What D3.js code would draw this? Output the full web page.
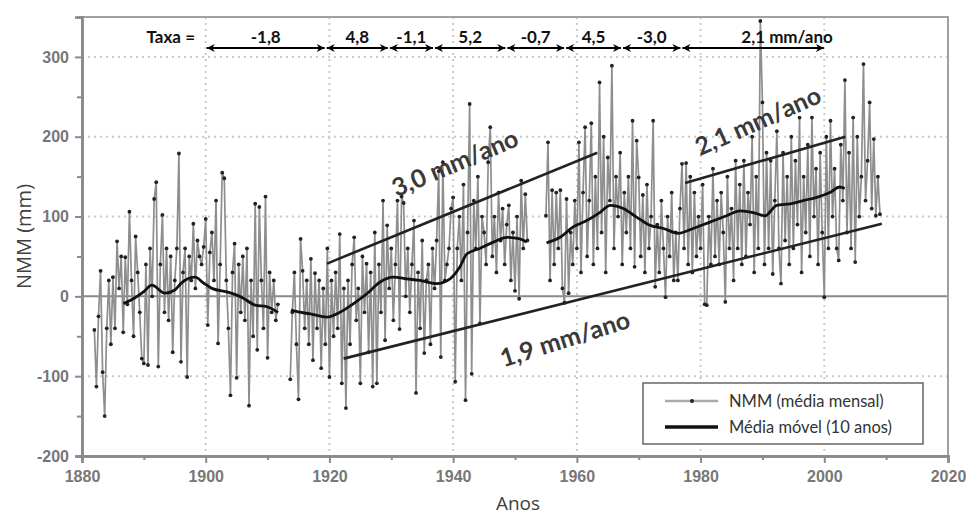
<!DOCTYPE html>
<html>
<head>
<meta charset="utf-8">
<script src="https://cdn.jsdelivr.net/npm/d3@7"></script>
<style>
  body { margin: 0; background: #fff; }
  svg { display: block; }
</style>
</head>
<body>
<div id="chart"></div>
<script>

// monthly sea level (sampled every 4 months), mm, three pieces with gaps
var step = 1 / 3;

var seg1Start = 1882;
var seg1 = [
  -42, -113, -25,   32, -95, -150,   -40, 20, -60,   24, -40, 69,
  10, 50, -45,   49, -10, 106,   20, -50, 75,   30, -20, -78,
  -84, 40, -86,   60, 0, 122,   143, -88, 40,   102, -20, 60,
  -30, 50, -70,   20, 60, 179,   -82, 30, 60,   -101, 50, 20,
  91, 10, 70,   50, 40, 62,   97, -36, 55,   80, 20, 120,
  -59, 40, 155,   148, 20, -40,   -124, 30, 66,   -102, 40, -20,
  50, -30, 60,   -137, 20, -50,   116, -67, 112,   20, -40, 125,
  -77, 30, -20,   20, -30, -10
];

var seg2Start = 1913 + 2 / 3;
var seg2 = [
  -104,
  -20, 30, -60,   -129, 72, 32,   -40, 20, -60,   47, -80, 29,
  -40, 20, -90,   10, -60, 60,   -101, 20, -50,   30, -40, 78,
  -109, 10, -140,   20, -60, 40,   74, -30, 10,   -109, 50, -20,
  41, -70, 30,   -113, 80, -109,   40, -20, 120,   -55, 89, 10,
  60, -30, 40,   120, -41, 125,   117, 0, 60,   -20, 40, 95,
  -121, 30, -40,   70, -71, 20,   40, -60, 60,   10, 70, 157,
  -76, 168, 20,   40, 60, 110,   124, -107, 60,   100, 20, 140,
  -130, 80, 241,   -97, 120, 60,   150, -34, 100,   80, 40, 168,
  212, 50, 100,   30, 130, 70,   110, 40, 90,   114, 20, 80,
  7, 100, -3,   145, 60, 128,   70
];

var seg3Start = 1955;
var seg3 = [
  101, 193, 20,   133, 40, 130,   60, 133, 10,   -8, 122, 4,
  80, 40, 120,   60, 193, 30,   130, 212, 50,   120, 217, 40,
  150, 60, 268,   80, 200, 30,   174, 120, 289,   60, 150, 100,
  180, 40, 130,   80, 150, 60,   220, 37, 195,   149, 50, 127,
  30, 140, 60,   100, 220, 12,   90, 30, 120,   60, -1, 100,
  50, 130, 20,   80, 20, 110,   166, 60, 167,   40, 150, 30,
  130, 50, 100,   60, 140, -10,   -11, 100, 40,   160, 50, 120,
  40, 130, 80,   -7, 150, 60,   110, 20, 170,   60, 140, 40,
  170, 50, 130,   90, 200, 30,   150, 60, 345,   243, 40, 180,
  60, 170, 28,   120, 207, 60,   16, 180, 70,   150, 40, 200,
  60, 170, 90,   224, 30, 150,   80, 190, 50,   224, 100, 160,
  40, 180, 80,   -1, 200, 60,   220, 100, 160,   60, 45, 190,
  120, 271, 80,   180, 60, 224,   43, 200, 100,   150, 291, 120,
  170, 243, 110,   197, 101, 150,   103
];

// 10-year moving average (NaN = gap)
var maYears = [1886.7, 1888.5, 1890, 1891.3, 1893.4, 1895, 1896.1, 1898.3, 1899.6, 1901, 1903.7, 1905.8, 1908, 1909.9, 1911.7,
  NaN,
  1913.8, 1914.2, 1916.9, 1919.6, 1921.7, 1923.9, 1926, 1928.2, 1930.3, 1932.5, 1934.6, 1937.3, 1939.5, 1941.1, 1942.2, 1944.3, 1946.5, 1948.7, 1950.8, 1951.9,
  NaN,
  1955.1, 1957.3, 1959.4, 1961.6, 1963.7, 1965.4, 1967.5, 1969.7, 1971.8, 1974, 1976.4, 1978.8, 1981.5, 1984.2, 1986.4, 1988.5, 1990.4, 1992.3, 1994.5, 1996.6, 1998.8, 2000.9, 2002.5, 2003.3];
var maValues = [-9, -2, 6, 14, 4, 8, 17, 24, 17, 10, 5, -1, -11, -13, -20,
  NaN,
  -17, -18, -22, -26, -20, -9, 3, 18, 24, 22, 20, 16, 22, 37, 53, 60, 68, 74, 72, 68,
  NaN,
  67, 74, 87, 95, 105, 114, 110, 99, 89, 85, 79, 85, 93, 101, 107, 105, 101, 114, 116, 120, 124, 130, 137, 135];

// trend lines [year0, mm0, year1, mm1]
var trendLines = [
  [1919.6, 41, 1963.3, 180],
  [1977.5, 142, 2003.4, 200],
  [1922.3, -78, 2009.3, 91]
];
var trendLabels = ["3,0 mm/ano", "2,1 mm/ano", "1,9 mm/ano"];

// rate periods along the top
var rateBreaks = [1900, 1919.4, 1929.6, 1936.9, 1948.6, 1958.1, 1967.3, 1976.9, 2000.1];
var rateLabels = ["-1,8", "4,8", "-1,1", "5,2", "-0,7", "4,5", "-3,0", "2,1"];

var xTicks = [1880, 1900, 1920, 1940, 1960, 1980, 2000, 2020];
var yTicks = [-200, -100, 0, 100, 200, 300];
var legendLabels = ["NMM (média mensal)", "Média móvel (10 anos)"];

var width = 966, height = 518;
var margin = { top: 17, right: 18, bottom: 62, left: 82 };

var svg = d3.select("#chart").append("svg")
    .attr("width", width)
    .attr("height", height);

var x = d3.scaleLinear().domain([1880, 2020]).range([margin.left, width - margin.right]);
var y = d3.scaleLinear().domain([-200, 350]).range([height - margin.bottom, margin.top]);

var gray = "#8a8a8a";

// grid
svg.append("g").selectAll("line")
    .data(xTicks.filter(function(d) { return d > 1880 && d < 2020; }))
  .enter().append("line")
    .attr("x1", function(d) { return x(d); })
    .attr("x2", function(d) { return x(d); })
    .attr("y1", y(350))
    .attr("y2", y(-200))
    .style("stroke", "#c9c9c9")
    .style("stroke-width", 2)
    .style("stroke-dasharray", "2,4");

svg.append("g").selectAll("line")
    .data([-100, 100, 200, 300])
  .enter().append("line")
    .attr("x1", x(1880))
    .attr("x2", x(2020))
    .attr("y1", function(d) { return y(d); })
    .attr("y2", function(d) { return y(d); })
    .style("stroke", "#c9c9c9")
    .style("stroke-width", 2)
    .style("stroke-dasharray", "2,4");

// zero line
svg.append("line")
    .attr("x1", x(1880)).attr("x2", x(2020))
    .attr("y1", y(0)).attr("y2", y(0))
    .style("stroke", gray)
    .style("stroke-width", 2);

// frame
svg.append("rect")
    .attr("x", x(1880)).attr("y", y(350))
    .attr("width", x(2020) - x(1880))
    .attr("height", y(-200) - y(350))
    .style("fill", "none")
    .style("stroke", "#a0a0a0")
    .style("stroke-width", 2);

// axes
var fmt = function(d) { return String(d); };

svg.append("g")
    .attr("transform", "translate(0," + y(-200) + ")")
    .call(d3.axisBottom(x).tickValues(xTicks).tickSize(7).tickPadding(8).tickFormat(fmt));
svg.append("g")
    .attr("transform", "translate(0," + y(-200) + ")")
    .call(d3.axisBottom(x).tickValues(d3.range(1890, 2020, 20)).tickSize(4).tickFormat(""));

svg.append("g")
    .attr("transform", "translate(" + x(1880) + ",0)")
    .call(d3.axisLeft(y).tickValues(yTicks).tickSize(7).tickPadding(6).tickFormat(fmt));
svg.append("g")
    .attr("transform", "translate(" + x(1880) + ",0)")
    .call(d3.axisLeft(y).tickValues([-150, -50, 50, 150, 250]).tickSize(5).tickFormat(""));

svg.selectAll(".domain").style("stroke", gray).style("stroke-width", 2.5);
svg.selectAll(".tick line").style("stroke", gray).style("stroke-width", 2);
svg.selectAll(".tick text")
    .style("font-family", "'Liberation Sans', Arial, sans-serif")
    .style("font-weight", "bold")
    .style("font-size", "16px")
    .style("fill", "#777");

// axis titles
svg.append("text")
    .attr("transform", "translate(31," + ((y(350) + y(-200)) / 2) + ") rotate(-90)")
    .attr("text-anchor", "middle")
    .style("font-family", "'Open Sans', sans-serif")
    .style("font-size", "20px")
    .style("fill", "#404040")
    .text("NMM (mm)");

svg.append("text")
    .attr("x", 518)
    .attr("y", 510)
    .attr("text-anchor", "middle")
    .style("font-family", "'Open Sans', sans-serif")
    .style("font-size", "19px")
    .style("fill", "#404040")
    .text("Anos");

// monthly series
function toPoints(start, values) {
  return values.map(function(v, i) { return { t: start + i * step, v: v }; });
}
var segments = [toPoints(seg1Start, seg1), toPoints(seg2Start, seg2), toPoints(seg3Start, seg3)];

var line = d3.line()
    .x(function(d) { return x(d.t); })
    .y(function(d) { return y(d.v); });

var series = svg.append("g");
segments.forEach(function(seg) {
  series.append("path")
      .datum(seg)
      .attr("d", line)
      .style("fill", "none")
      .style("stroke", "#8e8e8e")
      .style("stroke-width", 1.7);
  series.selectAll(null)
      .data(seg)
    .enter().append("circle")
      .attr("cx", function(d) { return x(d.t); })
      .attr("cy", function(d) { return y(d.v); })
      .attr("r", 1.9)
      .style("fill", "#222");
});

// moving average
var ma = maYears.map(function(t, i) { return { t: t, v: maValues[i] }; });
svg.append("path")
    .datum(ma)
    .attr("d", d3.line()
        .defined(function(d) { return !isNaN(d.t); })
        .curve(d3.curveMonotoneX)
        .x(function(d) { return x(d.t); })
        .y(function(d) { return y(d.v); }))
    .style("fill", "none")
    .style("stroke", "#111")
    .style("stroke-width", 2.8);

// trend lines
svg.append("g").selectAll("line")
    .data(trendLines)
  .enter().append("line")
    .attr("x1", function(d) { return x(d[0]); })
    .attr("y1", function(d) { return y(d[1]); })
    .attr("x2", function(d) { return x(d[2]); })
    .attr("y2", function(d) { return y(d[3]); })
    .style("stroke", "#222")
    .style("stroke-width", 2.6);

var labelSpots = [[455, 163, -23], [758, 121, -24], [565, 339, -17.5]];
svg.append("g").selectAll("text")
    .data(trendLabels)
  .enter().append("text")
    .attr("transform", function(d, i) {
      var s = labelSpots[i];
      return "translate(" + s[0] + "," + s[1] + ") rotate(" + s[2] + ")";
    })
    .attr("text-anchor", "middle")
    .attr("dy", "0.35em")
    .style("font-family", "Lato, 'Open Sans', sans-serif")
    .style("font-weight", "bold")
    .style("font-size", "25px")
    .style("fill", "#3a3a3a")
    .text(function(d) { return d; });

// rate arrows
var defs = svg.append("defs");
defs.append("marker")
    .attr("id", "head")
    .attr("viewBox", "0 0 10 10")
    .attr("refX", 10)
    .attr("refY", 5)
    .attr("markerUnits", "userSpaceOnUse")
    .attr("markerWidth", 10)
    .attr("markerHeight", 8)
    .attr("orient", "auto-start-reverse")
  .append("path")
    .attr("d", "M0,0L10,5L0,10L3,5Z")
    .style("fill", "#000");

var arrowY = 48, labelY = 43;
var periods = d3.range(rateLabels.length);

svg.append("g").selectAll("line")
    .data(periods)
  .enter().append("line")
    .attr("x1", function(i) { return x(rateBreaks[i]) + 1; })
    .attr("x2", function(i) { return x(rateBreaks[i + 1]) - 1; })
    .attr("y1", arrowY)
    .attr("y2", arrowY)
    .attr("marker-start", "url(#head)")
    .attr("marker-end", "url(#head)")
    .style("stroke", "#000")
    .style("stroke-width", 2.2);

var rateText = svg.append("g")
    .style("font-family", "Lato, 'Open Sans', sans-serif")
    .style("font-weight", "bold")
    .style("font-size", "17px")
    .style("fill", "#111");

rateText.selectAll("text")
    .data(periods)
  .enter().append("text")
    .attr("x", function(i) { return (x(rateBreaks[i]) + x(rateBreaks[i + 1])) / 2; })
    .attr("y", labelY)
    .attr("text-anchor", "middle")
    .text(function(i) { return rateLabels[i]; })
    .each(function(i) {
      if (i === rateLabels.length - 1) {
        var w = this.getComputedTextLength();
        var cx = +d3.select(this).attr("x");
        d3.select(this).attr("text-anchor", "start").attr("x", cx - w / 2)
            .text(rateLabels[i] + " mm/ano");
      }
    });

rateText.append("text")
    .attr("x", 195)
    .attr("y", labelY)
    .attr("text-anchor", "end")
    .text("Taxa =");

// legend
var lg = svg.append("g").attr("transform", "translate(643,383)");
lg.append("rect")
    .attr("width", 280)
    .attr("height", 61)
    .style("fill", "#fff")
    .style("stroke", "#666")
    .style("stroke-width", 1.5);

lg.append("line")
    .attr("x1", 22).attr("x2", 75).attr("y1", 18).attr("y2", 18)
    .style("stroke", "#aaa").style("stroke-width", 2.5);
lg.append("circle")
    .attr("cx", 49).attr("cy", 18).attr("r", 2)
    .style("fill", "#222");
lg.append("line")
    .attr("x1", 22).attr("x2", 75).attr("y1", 44).attr("y2", 44)
    .style("stroke", "#111").style("stroke-width", 3.5);

lg.selectAll("text")
    .data(legendLabels)
  .enter().append("text")
    .attr("x", 86)
    .attr("y", function(d, i) { return 18 + i * 26; })
    .attr("dy", "0.35em")
    .style("font-family", "Lato, 'Open Sans', sans-serif")
    .style("font-size", "16.5px")
    .style("fill", "#333")
    .text(function(d) { return d; });

</script>
</body>
</html>
